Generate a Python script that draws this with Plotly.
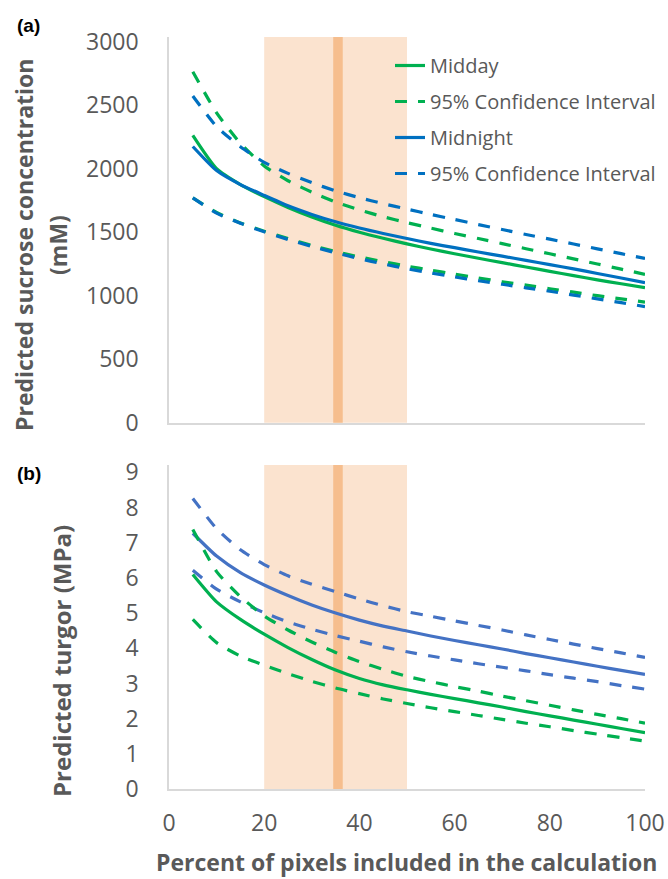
import plotly.graph_objects as go

# ---------------- data ----------------
pct_pixels = [5, 10, 15, 20, 25, 30, 35, 40, 45, 50, 55, 60, 65, 70, 75, 80, 85, 90, 95, 100]

sucrose_midday = [2262, 2000, 1875, 1780, 1695, 1620, 1555, 1500, 1452, 1408,
                  1368, 1330, 1295, 1260, 1226, 1192, 1158, 1125, 1094, 1063]
sucrose_midday_ci_upper = [2764, 2440, 2200, 2022, 1905, 1815, 1738, 1675, 1622, 1575,
                           1532, 1490, 1450, 1410, 1370, 1330, 1290, 1250, 1209, 1168]
sucrose_midday_ci_lower = [1770, 1655, 1573, 1508, 1450, 1395, 1348, 1305, 1268, 1233,
                           1201, 1170, 1140, 1110, 1083, 1055, 1028, 1000, 975, 950]
sucrose_midnight = [2175, 1985, 1875, 1790, 1708, 1640, 1582, 1533, 1490, 1450,
                    1412, 1378, 1344, 1311, 1278, 1245, 1211, 1175, 1139, 1102]
sucrose_midnight_ci_upper = [2573, 2332, 2173, 2050, 1963, 1890, 1825, 1772, 1725, 1682,
                             1640, 1600, 1560, 1521, 1482, 1445, 1407, 1369, 1331, 1293]
sucrose_midnight_ci_lower = [1770, 1650, 1570, 1503, 1443, 1388, 1338, 1292, 1250, 1212,
                             1179, 1148, 1118, 1090, 1062, 1035, 1005, 975, 945, 914]

turgor_midday = [6.10, 5.32, 4.82, 4.40, 4.02, 3.68, 3.38, 3.14, 2.96, 2.82,
                 2.69, 2.57, 2.45, 2.33, 2.20, 2.08, 1.96, 1.84, 1.72, 1.60]
turgor_midday_ci_upper = [7.38, 6.18, 5.47, 4.92, 4.52, 4.18, 3.88, 3.62, 3.40, 3.20,
                          3.05, 2.91, 2.78, 2.64, 2.51, 2.38, 2.25, 2.12, 2.00, 1.87]
turgor_midday_ci_lower = [4.82, 4.16, 3.78, 3.52, 3.28, 3.06, 2.87, 2.71, 2.56, 2.43,
                          2.31, 2.20, 2.09, 1.98, 1.87, 1.77, 1.66, 1.56, 1.46, 1.36]
turgor_midnight = [7.27, 6.62, 6.15, 5.80, 5.50, 5.23, 5.00, 4.80, 4.63, 4.49,
                   4.35, 4.22, 4.10, 3.98, 3.85, 3.73, 3.61, 3.49, 3.37, 3.26]
turgor_midnight_ci_upper = [8.26, 7.40, 6.80, 6.38, 6.06, 5.82, 5.61, 5.40, 5.21, 5.04,
                            4.91, 4.78, 4.65, 4.52, 4.38, 4.25, 4.12, 3.99, 3.87, 3.74]
turgor_midnight_ci_lower = [6.22, 5.68, 5.32, 5.01, 4.75, 4.54, 4.36, 4.20, 4.04, 3.90,
                            3.78, 3.67, 3.56, 3.46, 3.36, 3.25, 3.15, 3.05, 2.94, 2.84]

shade_range = [20, 50]
band_range = [34.5, 36.5]

x_ticks = [0, 20, 40, 60, 80, 100]
sucrose_ticks = [0, 500, 1000, 1500, 2000, 2500, 3000]
turgor_ticks = [0, 1, 2, 3, 4, 5, 6, 7, 8, 9]

# ---------------- style ----------------
W, H = 668, 879
GREEN = "#00B050"
BLUE_A = "#0070C0"
BLUE_B = "#4472C4"
GRAY = "#595959"
AXIS = "#D9D9D9"
SHADE = "rgb(251,227,207)"
BAND = "rgb(246,190,142)"
FONT = "Open Sans"
LW = 3.2
DASH = "12px,11px"


def px_x(p):
    return p / W


def px_y(p):
    return 1 - p / H


fig = go.Figure()


def add(xa, ya, y, name, color, dash, show, group):
    fig.add_trace(go.Scatter(
        x=pct_pixels, y=y, name=name, mode="lines",
        line=dict(color=color, width=LW, dash=dash, shape="spline", smoothing=0.6),
        xaxis=xa, yaxis=ya, showlegend=show, legendgroup=group,
        hoverinfo="x+y",
    ))


# panel (a)
add("x", "y", sucrose_midday, "Midday", GREEN, "solid", True, "g1")
add("x", "y", sucrose_midday_ci_upper, "95% Confidence Interval", GREEN, DASH, True, "g2")
add("x", "y", sucrose_midday_ci_lower, "95% Confidence Interval", GREEN, DASH, False, "g2")
add("x", "y", sucrose_midnight, "Midnight", BLUE_A, "solid", True, "g3")
add("x", "y", sucrose_midnight_ci_upper, "95% Confidence Interval", BLUE_A, DASH, True, "g4")
add("x", "y", sucrose_midnight_ci_lower, "95% Confidence Interval", BLUE_A, DASH, False, "g4")

# panel (b)
add("x2", "y2", turgor_midnight_ci_upper, "95% Confidence Interval", BLUE_B, DASH, False, "g4")
add("x2", "y2", turgor_midnight_ci_lower, "95% Confidence Interval", BLUE_B, DASH, False, "g4")
add("x2", "y2", turgor_midnight, "Midnight", BLUE_B, "solid", False, "g3")
add("x2", "y2", turgor_midday_ci_upper, "95% Confidence Interval", GREEN, DASH, False, "g2")
add("x2", "y2", turgor_midday_ci_lower, "95% Confidence Interval", GREEN, DASH, False, "g2")
add("x2", "y2", turgor_midday, "Midday", GREEN, "solid", False, "g1")

# shaded windows
for xr, yr in (("x", "y domain"), ("x2", "y2 domain")):
    fig.add_shape(type="rect", xref=xr, yref=yr, x0=shade_range[0], x1=shade_range[1],
                  y0=0, y1=1, fillcolor=SHADE, line_width=0, layer="below")
    fig.add_shape(type="rect", xref=xr, yref=yr, x0=band_range[0], x1=band_range[1],
                  y0=0, y1=1, fillcolor=BAND, line_width=0, layer="below")

x_dom = [px_x(169), px_x(645)]
tickfont = dict(family=FONT, size=23, color=GRAY)

common_x = dict(range=[0, 100], showgrid=False, zeroline=False, showline=True,
                linecolor=AXIS, linewidth=1.5, ticks="", tickvals=x_ticks,
                tickfont=tickfont, domain=x_dom, fixedrange=True, automargin=False)
common_y = dict(showgrid=False, zeroline=False, showline=True, linecolor=AXIS,
                linewidth=1.5, ticks="", tickfont=tickfont, ticklabelstandoff=24,
                automargin=False, fixedrange=True)

fig.update_layout(
    width=W, height=H,
    margin=dict(l=0, r=0, t=0, b=0, pad=0, autoexpand=False),
    paper_bgcolor="white", plot_bgcolor="white",
    font=dict(family=FONT, color=GRAY),
    xaxis=dict(common_x, anchor="y", showticklabels=False),
    xaxis2=dict(common_x, anchor="y2", showticklabels=True, ticklabelstandoff=13),
    yaxis=dict(common_y, range=[0, 3037], domain=[px_y(422.7), px_y(37)], anchor="x",
               tickvals=sucrose_ticks),
    yaxis2=dict(common_y, range=[0, 9.21], domain=[px_y(789), px_y(465)], anchor="x2",
                tickvals=turgor_ticks),
    legend=dict(x=px_x(390), y=px_y(46), xanchor="left", yanchor="top",
                bgcolor="rgba(0,0,0,0)", font=dict(family=FONT, size=20, color=GRAY),
                tracegroupgap=7, itemclick=False, itemdoubleclick=False),
    showlegend=True,
)


def note(text, x, y, size, color=GRAY, family=FONT, angle=0):
    return dict(text=text, x=px_x(x), y=px_y(y), xref="paper", yref="paper",
                xanchor="center", yanchor="middle", showarrow=False, textangle=angle,
                font=dict(family=family, size=size, color=color))


fig.update_layout(annotations=[
    note("<b>(a)</b>", 28, 25, 19, "black", "Liberation Sans"),
    note("<b>(b)</b>", 29, 473, 19, "black", "Liberation Sans"),
    note("<b>Predicted sucrose concentration</b>", 24, 245, 23, angle=-90),
    note("<b>(mM)</b>", 58, 245, 23, angle=-90),
    note("<b>Predicted turgor (MPa)</b>", 61, 661, 24, angle=-90),
    note("<b>Percent of pixels included in the calculation</b>", 406, 862, 23),
])

fig.write_html("out.html", config={"displayModeBar": False},
               post_script="document.body.style.margin='0';")
